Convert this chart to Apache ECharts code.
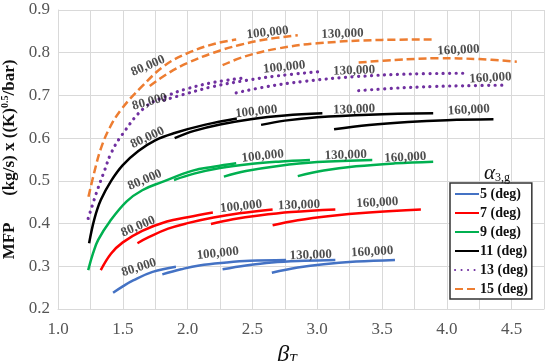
<!DOCTYPE html>
<html><head><meta charset="utf-8">
<script src="https://cdn.jsdelivr.net/npm/echarts@6/dist/echarts.min.js"></script>
<style>html,body{margin:0;padding:0;background:#fff}#c{width:550px;height:361px}</style>
</head><body><div id="c"></div>
<script>
// ---- data ----
const alphaNames = ['5 (deg)', '7 (deg)', '9 (deg)', '11 (deg)', '13 (deg)', '15 (deg)'];
const speedNames = ['80,000', '100,000', '130,000', '160,000'];

const a5_80  = [[1.425,0.238],[1.5,0.253],[1.58,0.267],[1.73,0.287],[1.91,0.299]];
const a5_100 = [[1.805,0.281],[1.95,0.293],[2.09,0.302],[2.3,0.309],[2.48,0.313],[2.76,0.315]];
const a5_130 = [[2.27,0.293],[2.45,0.302],[2.65,0.309],[2.9,0.313],[3.14,0.315]];
const a5_160 = [[2.65,0.285],[2.85,0.297],[3.05,0.305],[3.3,0.311],[3.6,0.315]];

const a7_80  = [[1.33,0.291],[1.41,0.33],[1.5,0.356],[1.65,0.383],[1.84,0.405],[2.0,0.415],[2.195,0.426]];
const a7_100 = [[1.613,0.354],[1.7,0.368],[1.85,0.388],[2.0,0.401],[2.2,0.414],[2.4,0.424],[2.656,0.433]];
const a7_130 = [[2.18,0.399],[2.35,0.41],[2.55,0.419],[2.8,0.427],[3.14,0.433]];
const a7_160 = [[2.656,0.396],[2.85,0.408],[3.1,0.418],[3.4,0.426],[3.8,0.433]];

const a9_80  = [[1.233,0.291],[1.27,0.33],[1.31,0.362],[1.4,0.405],[1.53,0.452],[1.65,0.478],[1.8,0.497],[2.04,0.524],[2.2,0.533],[2.375,0.541]];
const a9_100 = [[1.895,0.502],[2.05,0.517],[2.25,0.53],[2.5,0.54],[2.7,0.545],[2.944,0.549]];
const a9_130 = [[2.28,0.51],[2.45,0.523],[2.7,0.535],[3.0,0.544],[3.425,0.549]];
const a9_160 = [[2.85,0.511],[3.05,0.524],[3.3,0.534],[3.6,0.541],[3.895,0.545]];

const a11_80  = [[1.24,0.354],[1.28,0.41],[1.33,0.455],[1.41,0.5],[1.5,0.537],[1.62,0.57],[1.75,0.595],[1.9,0.612],[2.13,0.631],[2.38,0.646]];
const a11_100 = [[1.9,0.6],[2.05,0.617],[2.25,0.632],[2.5,0.645],[2.75,0.653],[3.04,0.658]];
const a11_130 = [[2.567,0.631],[2.75,0.641],[3.0,0.649],[3.4,0.655],[3.895,0.658]];
const a11_160 = [[3.13,0.621],[3.4,0.631],[3.7,0.638],[4.0,0.642],[4.36,0.644]];

const a13_80  = [[1.233,0.412],[1.3,0.475],[1.36,0.525],[1.41,0.565],[1.49,0.606],[1.67,0.672],[1.85,0.70],[2.0,0.716],[2.21,0.731],[2.44,0.741]];
const a13_100 = [[1.82,0.689],[2.0,0.705],[2.2,0.721],[2.45,0.735],[2.7,0.746],[3.03,0.756]];
const a13_130 = [[2.375,0.706],[2.6,0.72],[2.9,0.733],[3.3,0.744],[3.7,0.75],[4.14,0.752]];
const a13_160 = [[3.32,0.711],[3.6,0.717],[3.9,0.721],[4.2,0.723],[4.425,0.724]];

const a15_80  = [[1.235,0.463],[1.28,0.52],[1.33,0.575],[1.4,0.625],[1.49,0.668],[1.644,0.72],[1.823,0.77],[2.0,0.799],[2.21,0.821],[2.375,0.831]];
const a15_100 = [[1.708,0.722],[1.85,0.752],[2.0,0.776],[2.2,0.8],[2.4,0.818],[2.6,0.831],[2.85,0.841]];
const a15_130 = [[2.27,0.771],[2.45,0.792],[2.7,0.81],[3.0,0.822],[3.5,0.83],[3.895,0.831]];
const a15_160 = [[3.32,0.777],[3.6,0.783],[3.94,0.787],[4.25,0.785],[4.54,0.779]];

// speed-label anchor points [x, y] per alpha (80k,100k,130k,160k)
const lab5  = [[1.625,0.297],[2.233,0.33],[2.95,0.326],[3.425,0.334]];
const lab7  = [[1.618,0.393],[2.413,0.44],[2.86,0.443],[3.464,0.449]];
const lab9  = [[1.67,0.502],[2.58,0.558],[3.22,0.56],[3.68,0.555]];
const lab11 = [[1.69,0.601],[2.53,0.662],[3.285,0.667],[4.17,0.666]];
const lab13 = [[1.708,0.685],[2.746,0.766],[3.285,0.758],[4.336,0.741]];
const lab15 = [[1.695,0.769],[2.618,0.847],[3.195,0.844],[4.09,0.806]];

const xTicks = [1.0, 1.5, 2.0, 2.5, 3.0, 3.5, 4.0, 4.5];

// ---- styling ----
const curves = [
  [a5_80, a5_100, a5_130, a5_160],
  [a7_80, a7_100, a7_130, a7_160],
  [a9_80, a9_100, a9_130, a9_160],
  [a11_80, a11_100, a11_130, a11_160],
  [a13_80, a13_100, a13_130, a13_160],
  [a15_80, a15_100, a15_130, a15_160]
];
const labs = [lab5, lab7, lab9, lab11, lab13, lab15];
const labRot = [0, 6, 2, 3];
const firstRot = [18, 23, 23, 25, 15, 23];
const colors = ['#4472C4', '#FF0000', '#00B050', '#000000', '#7030A0', '#ED7D31'];
const lineStyles = [
  {width: 2.5, type: 'solid'},
  {width: 2.5, type: 'solid'},
  {width: 2.5, type: 'solid'},
  {width: 2.5, type: 'solid'},
  {width: 3.2, type: [0.1, 6.4], cap: 'round'},
  {width: 2.5, type: [8, 4]}
];
const serif = '"Liberation Serif", "DejaVu Serif", serif';

const series = [];
curves.forEach((set, i) => {
  set.forEach(d => {
    series.push({
      type: 'line', name: alphaNames[i], data: d, smooth: 0.4,
      symbol: 'none', showSymbol: false, silent: true,
      lineStyle: Object.assign({color: colors[i]}, lineStyles[i]),
      itemStyle: {color: colors[i]}, z: 2
    });
  });
});

const labelData = [];
labs.forEach((arr, i) => {
  arr.forEach((p, j) => {
    const rot = (j === 0) ? firstRot[i] : labRot[j];
    labelData.push({value: p, name: speedNames[j], label: {rotate: rot}});
  });
});
series.push({
  type: 'scatter', name: 'speed', data: labelData, symbolSize: 0, silent: true, z: 5,
  label: {show: true, position: 'inside', formatter: p => p.name,
          fontFamily: serif, fontSize: 13, fontWeight: 'bold', color: '#222'}
});

const chart = echarts.init(document.getElementById('c'), null, {renderer: 'canvas'});
chart.setOption({
  animation: false,
  backgroundColor: '#fff',
  grid: {left: 58, right: 6, top: 10, bottom: 52, containLabel: false, outerBoundsMode: 'none'},
  title: {
    text: '{a|α}{s|3,g}', left: 479, top: 158,
    textStyle: {fontWeight: 'normal', rich: {
      a: {fontFamily: serif, fontStyle: 'italic', fontWeight: 'normal', fontSize: 21, color: '#111'},
      s: {fontFamily: serif, fontWeight: 'normal', fontSize: 12, color: '#111', padding: [8, 0, 0, 0]}
    }}
  },
  legend: {
    data: alphaNames, orient: 'vertical', left: 450, top: 183,
    itemWidth: 24, itemHeight: 14, itemGap: 5,
    padding: [4, 4, 3, 4],
    backgroundColor: '#fff', borderColor: '#333', borderWidth: 1.5,
    itemStyle: {color: 'rgba(0,0,0,0)', borderWidth: 0, opacity: 0},
    textStyle: {fontFamily: serif, fontSize: 14, fontWeight: 'bold', color: '#111', padding: [0, 0, 0, -4]},
    selectedMode: false
  },
  xAxis: {
    type: 'value', min: 1.0, max: 4.75, interval: 0.25,
    name: '{b|β}{t|T}', nameLocation: 'middle', nameGap: 30,
    nameTextStyle: {padding: [0, 28, 0, 0], rich: {
      b: {fontFamily: serif, fontStyle: 'italic', fontSize: 24, color: '#111'},
      t: {fontFamily: serif, fontStyle: 'italic', fontSize: 14, color: '#111', padding: [10, 0, 0, 0]}
    }},
    axisLine: {show: true, lineStyle: {color: '#d9d9d9'}},
    axisTick: {show: false},
    splitLine: {show: true, lineStyle: {color: '#d9d9d9', width: 1}},
    axisLabel: {
      margin: 12, fontFamily: serif, fontSize: 17, color: '#555',
      formatter: v => xTicks.some(t => Math.abs(t - v) < 1e-6) ? v.toFixed(1) : ''
    }
  },
  yAxis: {
    type: 'value', min: 0.2, max: 0.9, interval: 0.1,
    name: '{b|MFP}        {b|(kg/s) x ((K)}{sup|0.5}{b|/bar)}',
    nameLocation: 'middle', nameGap: 36, nameRotate: 90,
    nameTextStyle: {rich: {
      b: {fontFamily: serif, fontWeight: 'bold', fontSize: 17, color: '#111'},
      sup: {fontFamily: serif, fontWeight: 'bold', fontSize: 10, color: '#111', padding: [0, 0, 8, 0]}
    }},
    axisLine: {show: true, lineStyle: {color: '#d9d9d9'}},
    axisTick: {show: false},
    splitLine: {show: true, lineStyle: {color: '#d9d9d9', width: 1}},
    axisLabel: {margin: 8, fontFamily: serif, fontSize: 17, color: '#555',
      formatter: v => v.toFixed(1)}
  },
  series: series
});
</script>
</body></html>
